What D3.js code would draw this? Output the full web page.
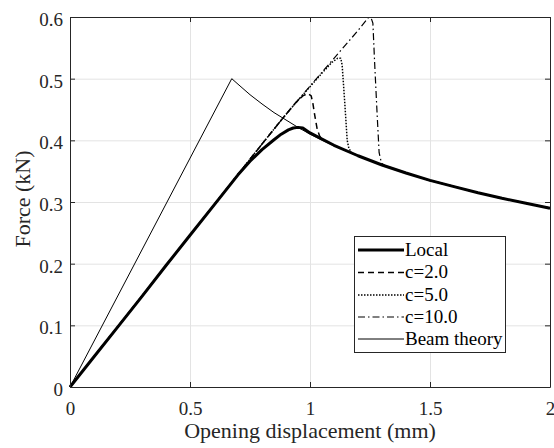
<!DOCTYPE html>
<html>
<head>
<meta charset="utf-8">
<script src="https://cdn.jsdelivr.net/npm/d3@7"></script>
<style>
    body { margin: 0; background: #fff; }
    svg { display: block; }
</style>
</head>
<body>
<div id="output"></div>
<script>
// ticks
const xTicks = [0, 0.5, 1, 1.5, 2];
const xTickLabels = ["0", "0.5", "1", "1.5", "2"];
const yTicks = [0, 0.1, 0.2, 0.3, 0.4, 0.5, 0.6];
const yTickLabels = ["0", "0.1", "0.2", "0.3", "0.4", "0.5", "0.6"];

// Local
const localX = [0, 0.1, 0.2, 0.3, 0.4, 0.5, 0.6, 0.7, 0.75, 0.8, 0.85, 0.88, 0.91, 0.93, 0.95, 0.97, 1.0, 1.05, 1.1, 1.2, 1.3, 1.4, 1.5, 1.6, 1.7, 1.8, 1.9, 2.0];
const localF = [0, 0.049, 0.098, 0.147, 0.197, 0.246, 0.295, 0.344, 0.366, 0.385, 0.401, 0.410, 0.417, 0.420, 0.421, 0.420, 0.412, 0.402, 0.392, 0.375, 0.360, 0.347, 0.335, 0.325, 0.315, 0.306, 0.298, 0.290];

// c=2.0
const c2X = [0, 0.5, 0.8, 0.889, 0.94, 0.97, 0.99, 1.005, 1.012, 1.02, 1.03, 1.04, 1.05, 1.1, 1.2, 1.3, 1.4, 1.5, 1.6, 1.7, 1.8, 1.9, 2.0];
const c2F = [0, 0.246, 0.394, 0.437, 0.461, 0.472, 0.476, 0.472, 0.46, 0.44, 0.418, 0.407, 0.402, 0.392, 0.375, 0.360, 0.347, 0.335, 0.325, 0.315, 0.306, 0.298, 0.290];

// c=5.0
const c5X = [0, 0.5, 0.8, 0.889, 0.95, 1.0, 1.05, 1.09, 1.115, 1.128, 1.134, 1.145, 1.155, 1.162, 1.175, 1.2, 1.3, 1.4, 1.5, 1.6, 1.7, 1.8, 1.9, 2.0];
const c5F = [0, 0.246, 0.394, 0.437, 0.465, 0.487, 0.509, 0.526, 0.533, 0.533, 0.522, 0.46, 0.40, 0.387, 0.379, 0.375, 0.360, 0.347, 0.335, 0.325, 0.315, 0.306, 0.298, 0.290];

// c=10.0
const c10X = [0, 0.5, 0.8, 0.889, 0.95, 1.0, 1.1, 1.2, 1.243, 1.255, 1.262, 1.27, 1.28, 1.288, 1.298, 1.32, 1.4, 1.5, 1.6, 1.7, 1.8, 1.9, 2.0];
const c10F = [0, 0.246, 0.394, 0.437, 0.465, 0.488, 0.533, 0.578, 0.599, 0.598, 0.59, 0.52, 0.44, 0.38, 0.363, 0.357, 0.347, 0.335, 0.325, 0.315, 0.306, 0.298, 0.290];

// Beam theory
const beamX = [0, 0.674, 0.7, 0.75, 0.8, 0.85, 0.9, 0.95, 1.0, 1.1, 1.2, 1.3, 1.4, 1.5, 1.6, 1.7, 1.8, 1.9, 2.0];
const beamF = [0, 0.5, 0.491, 0.474, 0.459, 0.445, 0.433, 0.421, 0.410, 0.391, 0.375, 0.360, 0.347, 0.335, 0.325, 0.315, 0.306, 0.298, 0.290];

const axisColor = "#262626";
const gridColor = "#e3e3e3";
const font = "Liberation Serif";

function draw() {
    const W = 554, H = 448;
    const left = 70, right = 550, top = 17, bottom = 387;

    const svg = d3.select("#output").append("svg").attr("width", W).attr("height", H);

    const x = d3.scaleLinear().domain([0, 2]).range([left, right]);
    const y = d3.scaleLinear().domain([0, 0.6]).range([bottom, top]);

    // grid
    svg.append("g")
        .attr("transform", `translate(0,${bottom})`)
        .call(d3.axisBottom(x).tickValues(xTicks).tickSize(-(bottom - top)).tickFormat(""))
        .call(g => g.select(".domain").remove())
        .call(g => g.selectAll("line").style("stroke", gridColor).style("stroke-width", 1));
    svg.append("g")
        .attr("transform", `translate(${left},0)`)
        .call(d3.axisLeft(y).tickValues(yTicks).tickSize(-(right - left)).tickFormat(""))
        .call(g => g.select(".domain").remove())
        .call(g => g.selectAll("line").style("stroke", gridColor).style("stroke-width", 1));

    // curves
    const line = d3.line().x(d => x(d[0])).y(d => y(d[1]));
    const series = [
        { xs: beamX, fs: beamF, width: 1, dash: null },
        { xs: c2X, fs: c2F, width: 1.5, dash: "6,4" },
        { xs: c5X, fs: c5F, width: 1.5, dash: "1.5,1.5" },
        { xs: c10X, fs: c10F, width: 1.2, dash: "7,3,1.5,3" },
        { xs: localX, fs: localF, width: 3, dash: null }
    ];
    for (let s of series) {
        svg.append("path")
            .datum(s.xs.map((v, i) => [v, s.fs[i]]))
            .style("fill", "none")
            .style("stroke", "#000")
            .style("stroke-width", s.width)
            .style("stroke-dasharray", s.dash)
            .style("stroke-linejoin", "round")
            .attr("d", line);
    }

    // axes with inward ticks
    const styleAxis = g => {
        g.attr("font-family", font);
        g.select(".domain").style("stroke", axisColor).style("stroke-width", 1);
        g.selectAll(".tick line").style("stroke", axisColor);
        g.selectAll("text")
            .attr("font-family", font)
            .style("font-size", "19px")
            .style("fill", axisColor);
    };
    svg.append("g")
        .attr("transform", `translate(0,${bottom})`)
        .call(d3.axisBottom(x).tickValues(xTicks).tickSizeInner(-5).tickSizeOuter(0).tickPadding(15)
            .tickFormat((d, i) => xTickLabels[i]))
        .call(styleAxis);
    svg.append("g")
        .attr("transform", `translate(${left},0)`)
        .call(d3.axisLeft(y).tickValues(yTicks).tickSizeInner(-5).tickSizeOuter(0).tickPadding(7)
            .tickFormat((d, i) => yTickLabels[i]))
        .call(styleAxis)
        .call(g => g.selectAll("text").attr("dy", "0.45em"));
    svg.append("g")
        .attr("transform", `translate(0,${top})`)
        .call(d3.axisTop(x).tickValues(xTicks).tickSizeInner(-5).tickSizeOuter(0).tickFormat(""))
        .call(styleAxis);
    svg.append("g")
        .attr("transform", `translate(${right},0)`)
        .call(d3.axisRight(y).tickValues(yTicks).tickSizeInner(-5).tickSizeOuter(0).tickFormat(""))
        .call(styleAxis);

    // axis labels
    svg.append("text")
        .attr("font-family", font)
        .style("font-size", "22px")
        .style("fill", axisColor)
        .style("text-anchor", "middle")
        .attr("x", (left + right) / 2)
        .attr("y", 438)
        .text("Opening displacement (mm)");
    svg.append("text")
        .attr("font-family", font)
        .style("font-size", "22px")
        .style("fill", axisColor)
        .style("text-anchor", "middle")
        .attr("transform", `translate(30,199) rotate(-90)`)
        .text("Force (kN)");

    // legend
    const names = ["Local", "c=2.0", "c=5.0", "c=10.0", "Beam theory"];
    const lg = svg.append("g");
    lg.append("rect")
        .attr("x", 354.5).attr("y", 236.5)
        .attr("width", 151).attr("height", 116)
        .style("fill", "#fff")
        .style("stroke", axisColor)
        .style("stroke-width", 1);
    const legendSeries = [series[4], series[1], series[2], series[3], series[0]];
    const rowY = [250, 272.5, 295, 317, 339];
    names.forEach((name, i) => {
        const s = legendSeries[i];
        lg.append("line")
            .attr("x1", 358).attr("x2", 404)
            .attr("y1", rowY[i]).attr("y2", rowY[i])
            .style("stroke", "#000")
            .style("stroke-width", s.width)
            .style("stroke-dasharray", s.dash);
        lg.append("text")
            .attr("font-family", font)
            .style("font-size", "19px")
            .style("fill", "#000")
            .attr("x", 405)
            .attr("y", rowY[i] + 5.5)
            .text(name);
    });
}

draw();
</script>
</body>
</html>
